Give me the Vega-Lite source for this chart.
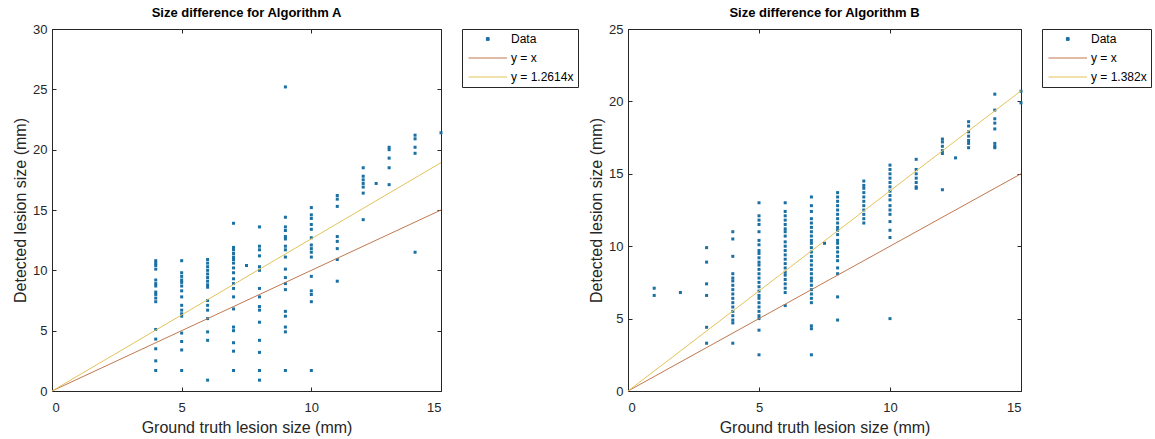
{
  "$schema": "https://vega.github.io/schema/vega-lite/v6.json",
  "background": "white",
  "padding": {"left": 12, "top": 6, "right": 0, "bottom": 0},
  "spacing": 9,
  "datasets": {
    "A": [
      {"x":4,"y":10.8},{"x":4,"y":10.6},{"x":4,"y":10.4},{"x":4,"y":10.1},{"x":4,"y":9.2},{"x":4,"y":8.9},{"x":4,"y":8.7},{"x":4,"y":8.2},{"x":4,"y":8.0},{"x":4,"y":7.7},{"x":4,"y":7.4},{"x":4,"y":5.1},{"x":4,"y":4.3},{"x":4,"y":3.5},{"x":4,"y":2.5},{"x":4,"y":1.7},
      {"x":5,"y":10.8},{"x":5,"y":9.8},{"x":5,"y":9.5},{"x":5,"y":9.2},{"x":5,"y":9.0},{"x":5,"y":8.7},{"x":5,"y":8.3},{"x":5,"y":7.8},{"x":5,"y":7.1},{"x":5,"y":6.7},{"x":5,"y":6.4},{"x":5,"y":6.2},{"x":5,"y":4.8},{"x":5,"y":4.1},{"x":5,"y":3.4},{"x":5,"y":1.7},
      {"x":6,"y":10.9},{"x":6,"y":10.6},{"x":6,"y":10.3},{"x":6,"y":10.0},{"x":6,"y":9.7},{"x":6,"y":9.4},{"x":6,"y":9.1},{"x":6,"y":8.8},{"x":6,"y":8.6},{"x":6,"y":7.5},{"x":6,"y":7.1},{"x":6,"y":6.7},{"x":6,"y":6.0},{"x":6,"y":4.9},{"x":6,"y":4.2},{"x":6,"y":0.9},
      {"x":7,"y":13.9},{"x":7,"y":11.9},{"x":7,"y":11.7},{"x":7,"y":11.4},{"x":7,"y":11.1},{"x":7,"y":10.9},{"x":7,"y":10.6},{"x":7,"y":10.2},{"x":7,"y":9.8},{"x":7,"y":9.3},{"x":7,"y":8.9},{"x":7,"y":8.5},{"x":7,"y":7.8},{"x":7,"y":6.8},{"x":7,"y":5.3},{"x":7,"y":5.0},{"x":7,"y":4.0},{"x":7,"y":3.3},{"x":7,"y":1.7},
      {"x":7.5,"y":10.4},
      {"x":8,"y":13.6},{"x":8,"y":12.0},{"x":8,"y":11.7},{"x":8,"y":11.2},{"x":8,"y":10.3},{"x":8,"y":10.0},{"x":8,"y":8.5},{"x":8,"y":7.8},{"x":8,"y":7.0},{"x":8,"y":6.7},{"x":8,"y":5.7},{"x":8,"y":4.2},{"x":8,"y":3.2},{"x":8,"y":1.7},{"x":8,"y":0.9},
      {"x":9,"y":25.2},{"x":9,"y":14.4},{"x":9,"y":13.6},{"x":9,"y":13.3},{"x":9,"y":12.8},{"x":9,"y":12.6},{"x":9,"y":12.0},{"x":9,"y":11.7},{"x":9,"y":11.1},{"x":9,"y":10.1},{"x":9,"y":9.4},{"x":9,"y":8.9},{"x":9,"y":8.4},{"x":9,"y":6.6},{"x":9,"y":6.2},{"x":9,"y":5.3},{"x":9,"y":4.9},{"x":9,"y":1.7},
      {"x":10,"y":15.2},{"x":10,"y":14.6},{"x":10,"y":14.3},{"x":10,"y":13.8},{"x":10,"y":13.4},{"x":10,"y":12.7},{"x":10,"y":12.1},{"x":10,"y":11.8},{"x":10,"y":11.5},{"x":10,"y":11.1},{"x":10,"y":9.5},{"x":10,"y":8.3},{"x":10,"y":8.0},{"x":10,"y":7.4},{"x":10,"y":1.7},
      {"x":11,"y":16.2},{"x":11,"y":15.9},{"x":11,"y":15.3},{"x":11,"y":12.8},{"x":11,"y":12.4},{"x":11,"y":11.8},{"x":11,"y":10.9},{"x":11,"y":9.1},
      {"x":12,"y":18.5},{"x":12,"y":17.8},{"x":12,"y":17.5},{"x":12,"y":17.2},{"x":12,"y":16.9},{"x":12,"y":16.4},{"x":12,"y":14.2},
      {"x":12.5,"y":17.2},
      {"x":13,"y":20.2},{"x":13,"y":20.0},{"x":13,"y":19.3},{"x":13,"y":18.5},{"x":13,"y":17.1},
      {"x":14,"y":21.2},{"x":14,"y":20.9},{"x":14,"y":20.2},{"x":14,"y":19.7},{"x":14,"y":11.5},
      {"x":15,"y":21.4}
    ],
    "B": [
      {"x":1,"y":7.1},{"x":1,"y":6.6},
      {"x":2,"y":6.8},
      {"x":3,"y":9.9},{"x":3,"y":8.9},{"x":3,"y":7.4},{"x":3,"y":6.6},{"x":3,"y":4.4},{"x":3,"y":3.3},
      {"x":4,"y":11.0},{"x":4,"y":10.5},{"x":4,"y":9.3},{"x":4,"y":8.1},{"x":4,"y":7.8},{"x":4,"y":7.6},{"x":4,"y":7.3},{"x":4,"y":7.0},{"x":4,"y":6.7},{"x":4,"y":6.4},{"x":4,"y":6.1},{"x":4,"y":5.8},{"x":4,"y":5.5},{"x":4,"y":5.2},{"x":4,"y":4.9},{"x":4,"y":4.7},{"x":4,"y":3.3},
      {"x":5,"y":13.0},{"x":5,"y":12.1},{"x":5,"y":11.8},{"x":5,"y":11.5},{"x":5,"y":11.0},{"x":5,"y":10.4},{"x":5,"y":10.1},{"x":5,"y":9.7},{"x":5,"y":9.5},{"x":5,"y":9.2},{"x":5,"y":8.9},{"x":5,"y":8.7},{"x":5,"y":8.4},{"x":5,"y":8.1},{"x":5,"y":7.8},{"x":5,"y":7.5},{"x":5,"y":7.2},{"x":5,"y":6.9},{"x":5,"y":6.6},{"x":5,"y":6.4},{"x":5,"y":6.1},{"x":5,"y":5.8},{"x":5,"y":5.5},{"x":5,"y":5.2},{"x":5,"y":5.0},{"x":5,"y":4.2},{"x":5,"y":2.5},
      {"x":6,"y":13.0},{"x":6,"y":12.4},{"x":6,"y":12.1},{"x":6,"y":11.8},{"x":6,"y":11.5},{"x":6,"y":11.2},{"x":6,"y":11.0},{"x":6,"y":10.7},{"x":6,"y":10.3},{"x":6,"y":10.0},{"x":6,"y":9.7},{"x":6,"y":9.4},{"x":6,"y":9.1},{"x":6,"y":8.8},{"x":6,"y":8.5},{"x":6,"y":8.2},{"x":6,"y":8.0},{"x":6,"y":7.7},{"x":6,"y":7.4},{"x":6,"y":7.1},{"x":6,"y":6.8},{"x":6,"y":5.9},
      {"x":7,"y":13.4},{"x":7,"y":12.8},{"x":7,"y":12.4},{"x":7,"y":11.9},{"x":7,"y":11.6},{"x":7,"y":11.3},{"x":7,"y":11.0},{"x":7,"y":10.7},{"x":7,"y":10.4},{"x":7,"y":10.2},{"x":7,"y":9.9},{"x":7,"y":9.6},{"x":7,"y":9.3},{"x":7,"y":9.0},{"x":7,"y":8.7},{"x":7,"y":8.4},{"x":7,"y":8.1},{"x":7,"y":7.8},{"x":7,"y":7.6},{"x":7,"y":7.3},{"x":7,"y":7.0},{"x":7,"y":6.7},{"x":7,"y":6.4},{"x":7,"y":6.1},{"x":7,"y":4.5},{"x":7,"y":4.3},{"x":7,"y":2.5},
      {"x":7.5,"y":10.2},
      {"x":8,"y":13.7},{"x":8,"y":13.4},{"x":8,"y":13.1},{"x":8,"y":12.8},{"x":8,"y":12.5},{"x":8,"y":12.2},{"x":8,"y":11.9},{"x":8,"y":11.6},{"x":8,"y":11.3},{"x":8,"y":11.1},{"x":8,"y":10.8},{"x":8,"y":10.4},{"x":8,"y":10.2},{"x":8,"y":9.9},{"x":8,"y":9.6},{"x":8,"y":9.3},{"x":8,"y":9.0},{"x":8,"y":8.5},{"x":8,"y":8.1},{"x":8,"y":6.5},{"x":8,"y":4.9},
      {"x":9,"y":14.5},{"x":9,"y":14.2},{"x":9,"y":14.0},{"x":9,"y":13.7},{"x":9,"y":13.4},{"x":9,"y":13.1},{"x":9,"y":12.8},{"x":9,"y":12.5},{"x":9,"y":12.2},{"x":9,"y":11.9},{"x":9,"y":11.6},
      {"x":10,"y":15.6},{"x":10,"y":15.3},{"x":10,"y":15.0},{"x":10,"y":14.7},{"x":10,"y":14.4},{"x":10,"y":14.1},{"x":10,"y":13.8},{"x":10,"y":13.5},{"x":10,"y":13.2},{"x":10,"y":12.8},{"x":10,"y":12.5},{"x":10,"y":12.2},{"x":10,"y":11.7},{"x":10,"y":11.1},{"x":10,"y":10.6},{"x":10,"y":5.0},
      {"x":11,"y":16.0},{"x":11,"y":15.3},{"x":11,"y":15.0},{"x":11,"y":14.7},{"x":11,"y":14.4},{"x":11,"y":14.1},{"x":11,"y":14.0},
      {"x":12,"y":17.4},{"x":12,"y":17.2},{"x":12,"y":16.9},{"x":12,"y":16.6},{"x":12,"y":16.4},{"x":12,"y":13.9},
      {"x":12.5,"y":16.1},
      {"x":13,"y":18.6},{"x":13,"y":18.3},{"x":13,"y":17.9},{"x":13,"y":17.6},{"x":13,"y":17.3},{"x":13,"y":17.1},{"x":13,"y":16.8},
      {"x":14,"y":20.5},{"x":14,"y":19.4},{"x":14,"y":18.8},{"x":14,"y":18.5},{"x":14,"y":18.1},{"x":14,"y":17.1},{"x":14,"y":16.9},{"x":14,"y":16.8},
      {"x":15,"y":20.7},{"x":15,"y":19.9}
    ],
    "LA": [
      {"x":0,"y":0,"series":"y = x"},{"x":15,"y":15,"series":"y = x"},
      {"x":0,"y":0,"series":"y = 1.2614x"},{"x":15,"y":18.921,"series":"y = 1.2614x"}
    ],
    "LB": [
      {"x":0,"y":0,"series":"y = x"},{"x":15,"y":15,"series":"y = x"},
      {"x":0,"y":0,"series":"y = 1.382x"},{"x":15,"y":20.73,"series":"y = 1.382x"}
    ]
  },
  "hconcat": [
    {
      "width": 389, "height": 362,
      "title": "Size difference for Algorithm A",
      "layer": [
        {
          "data": {"name": "A"},
          "mark": {"type": "point", "shape": "square", "filled": true, "size": 9, "opacity": 1, "clip": false},
          "encoding": {
            "x": {"field": "x", "type": "quantitative", "scale": {"domain": [0, 15], "nice": false}, "axis": {"values": [0,5,10,15], "title": "Ground truth lesion size (mm)"}},
            "y": {"field": "y", "type": "quantitative", "scale": {"domain": [0, 30], "nice": false}, "axis": {"values": [0,5,10,15,20,25,30], "title": "Detected lesion size (mm)"}},
            "color": {"datum": "Data", "type": "nominal",
              "scale": {"domain": ["Data", "y = x", "y = 1.2614x"], "range": ["#1a6fa3", "#c0784f", "#e2c35a"]},
              "legend": {"title": null, "orient": "right", "offset": 19, "symbolSize": 49,
                "encode": {"symbols": {"update": {
                  "shape": {"signal": "datum.value === 'Data' ? 'M4.1,-0.4H4.9V0.4H4.1Z' : 'M-1,0H10'"},
                  "size": {"value": 49},
                  "strokeWidth": {"value": 1},
                  "fill": {"signal": "datum.value === 'Data' ? '#1a6fa3' : 'transparent'"},
                  "stroke": {"signal": "datum.value === 'Data' ? 'transparent' : (datum.value === 'y = x' ? '#c0784f' : '#e2c35a')"},
                  "opacity": {"value": 1}
                }}}}}
          }
        },
        {
          "data": {"name": "LA"},
          "mark": {"type": "line", "strokeWidth": 1},
          "encoding": {
            "x": {"field": "x", "type": "quantitative", "axis": {"values": [0,5,10,15], "labels": false, "title": null}},
            "y": {"field": "y", "type": "quantitative", "axis": {"values": [0,5,10,15,20,25,30], "labels": false, "title": null}},
            "color": {"field": "series", "type": "nominal",
              "legend": {"title": null, "orient": "right", "offset": 19, "symbolSize": 49,
                "encode": {"symbols": {"update": {
                  "shape": {"signal": "datum.value === 'Data' ? 'M4.1,-0.4H4.9V0.4H4.1Z' : 'M-1,0H10'"},
                  "size": {"value": 49},
                  "strokeWidth": {"value": 1},
                  "fill": {"signal": "datum.value === 'Data' ? '#1a6fa3' : 'transparent'"},
                  "stroke": {"signal": "datum.value === 'Data' ? 'transparent' : (datum.value === 'y = x' ? '#c0784f' : '#e2c35a')"},
                  "opacity": {"value": 1}
                }}}}}
          }
        }
      ],
      "resolve": {"axis": {"x": "independent", "y": "independent"}}
    },
    {
      "width": 393, "height": 362,
      "title": "Size difference for Algorithm B",
      "layer": [
        {
          "data": {"name": "B"},
          "mark": {"type": "point", "shape": "square", "filled": true, "size": 9, "opacity": 1, "clip": false},
          "encoding": {
            "x": {"field": "x", "type": "quantitative", "scale": {"domain": [0, 15], "nice": false}, "axis": {"values": [0,5,10,15], "title": "Ground truth lesion size (mm)"}},
            "y": {"field": "y", "type": "quantitative", "scale": {"domain": [0, 25], "nice": false}, "axis": {"values": [0,5,10,15,20,25], "title": "Detected lesion size (mm)"}},
            "color": {"datum": "Data", "type": "nominal",
              "scale": {"domain": ["Data", "y = x", "y = 1.382x"], "range": ["#1a6fa3", "#c0784f", "#e2c35a"]},
              "legend": {"title": null, "orient": "right", "offset": 19, "symbolSize": 49,
                "encode": {"symbols": {"update": {
                  "shape": {"signal": "datum.value === 'Data' ? 'M4.1,-0.4H4.9V0.4H4.1Z' : 'M-1,0H10'"},
                  "size": {"value": 49},
                  "strokeWidth": {"value": 1},
                  "fill": {"signal": "datum.value === 'Data' ? '#1a6fa3' : 'transparent'"},
                  "stroke": {"signal": "datum.value === 'Data' ? 'transparent' : (datum.value === 'y = x' ? '#c0784f' : '#e2c35a')"},
                  "opacity": {"value": 1}
                }}}}}
          }
        },
        {
          "data": {"name": "LB"},
          "mark": {"type": "line", "strokeWidth": 1},
          "encoding": {
            "x": {"field": "x", "type": "quantitative", "axis": {"values": [0,5,10,15], "labels": false, "title": null}},
            "y": {"field": "y", "type": "quantitative", "axis": {"values": [0,5,10,15,20,25], "labels": false, "title": null}},
            "color": {"field": "series", "type": "nominal",
              "legend": {"title": null, "orient": "right", "offset": 19, "symbolSize": 49,
                "encode": {"symbols": {"update": {
                  "shape": {"signal": "datum.value === 'Data' ? 'M4.1,-0.4H4.9V0.4H4.1Z' : 'M-1,0H10'"},
                  "size": {"value": 49},
                  "strokeWidth": {"value": 1},
                  "fill": {"signal": "datum.value === 'Data' ? '#1a6fa3' : 'transparent'"},
                  "stroke": {"signal": "datum.value === 'Data' ? 'transparent' : (datum.value === 'y = x' ? '#c0784f' : '#e2c35a')"},
                  "opacity": {"value": 1}
                }}}}}
          }
        }
      ],
      "resolve": {"axis": {"x": "independent", "y": "independent"}}
    }
  ],
  "resolve": {"scale": {"color": "independent"}, "legend": {"color": "independent"}},
  "config": {
    "font": "Liberation Sans",
    "view": {"stroke": "#262626", "strokeWidth": 1},
    "axis": {
      "domain": false, "grid": false,
      "tickColor": "#262626", "tickSize": -4, "tickWidth": 1,
      "labelFont": "Liberation Sans", "labelFontSize": 13, "labelColor": "#262626",
      "titleFont": "Liberation Sans", "titleFontSize": 16, "titleFontWeight": "normal", "titleColor": "#262626"
    },
    "axisX": {"labelPadding": 14, "titlePadding": 5},
    "axisY": {"labelPadding": 9, "titlePadding": 4},
    "title": {"font": "Liberation Sans", "fontSize": 13, "fontWeight": "bold", "color": "#000000", "offset": 3},
    "legend": {
      "strokeColor": "#262626", "fillColor": "white", "padding": 4,
      "labelFont": "Liberation Sans", "labelFontSize": 12, "labelColor": "#000000",
      "symbolSize": 49, "rowPadding": 7, "labelOffset": 33
    }
  }
}
